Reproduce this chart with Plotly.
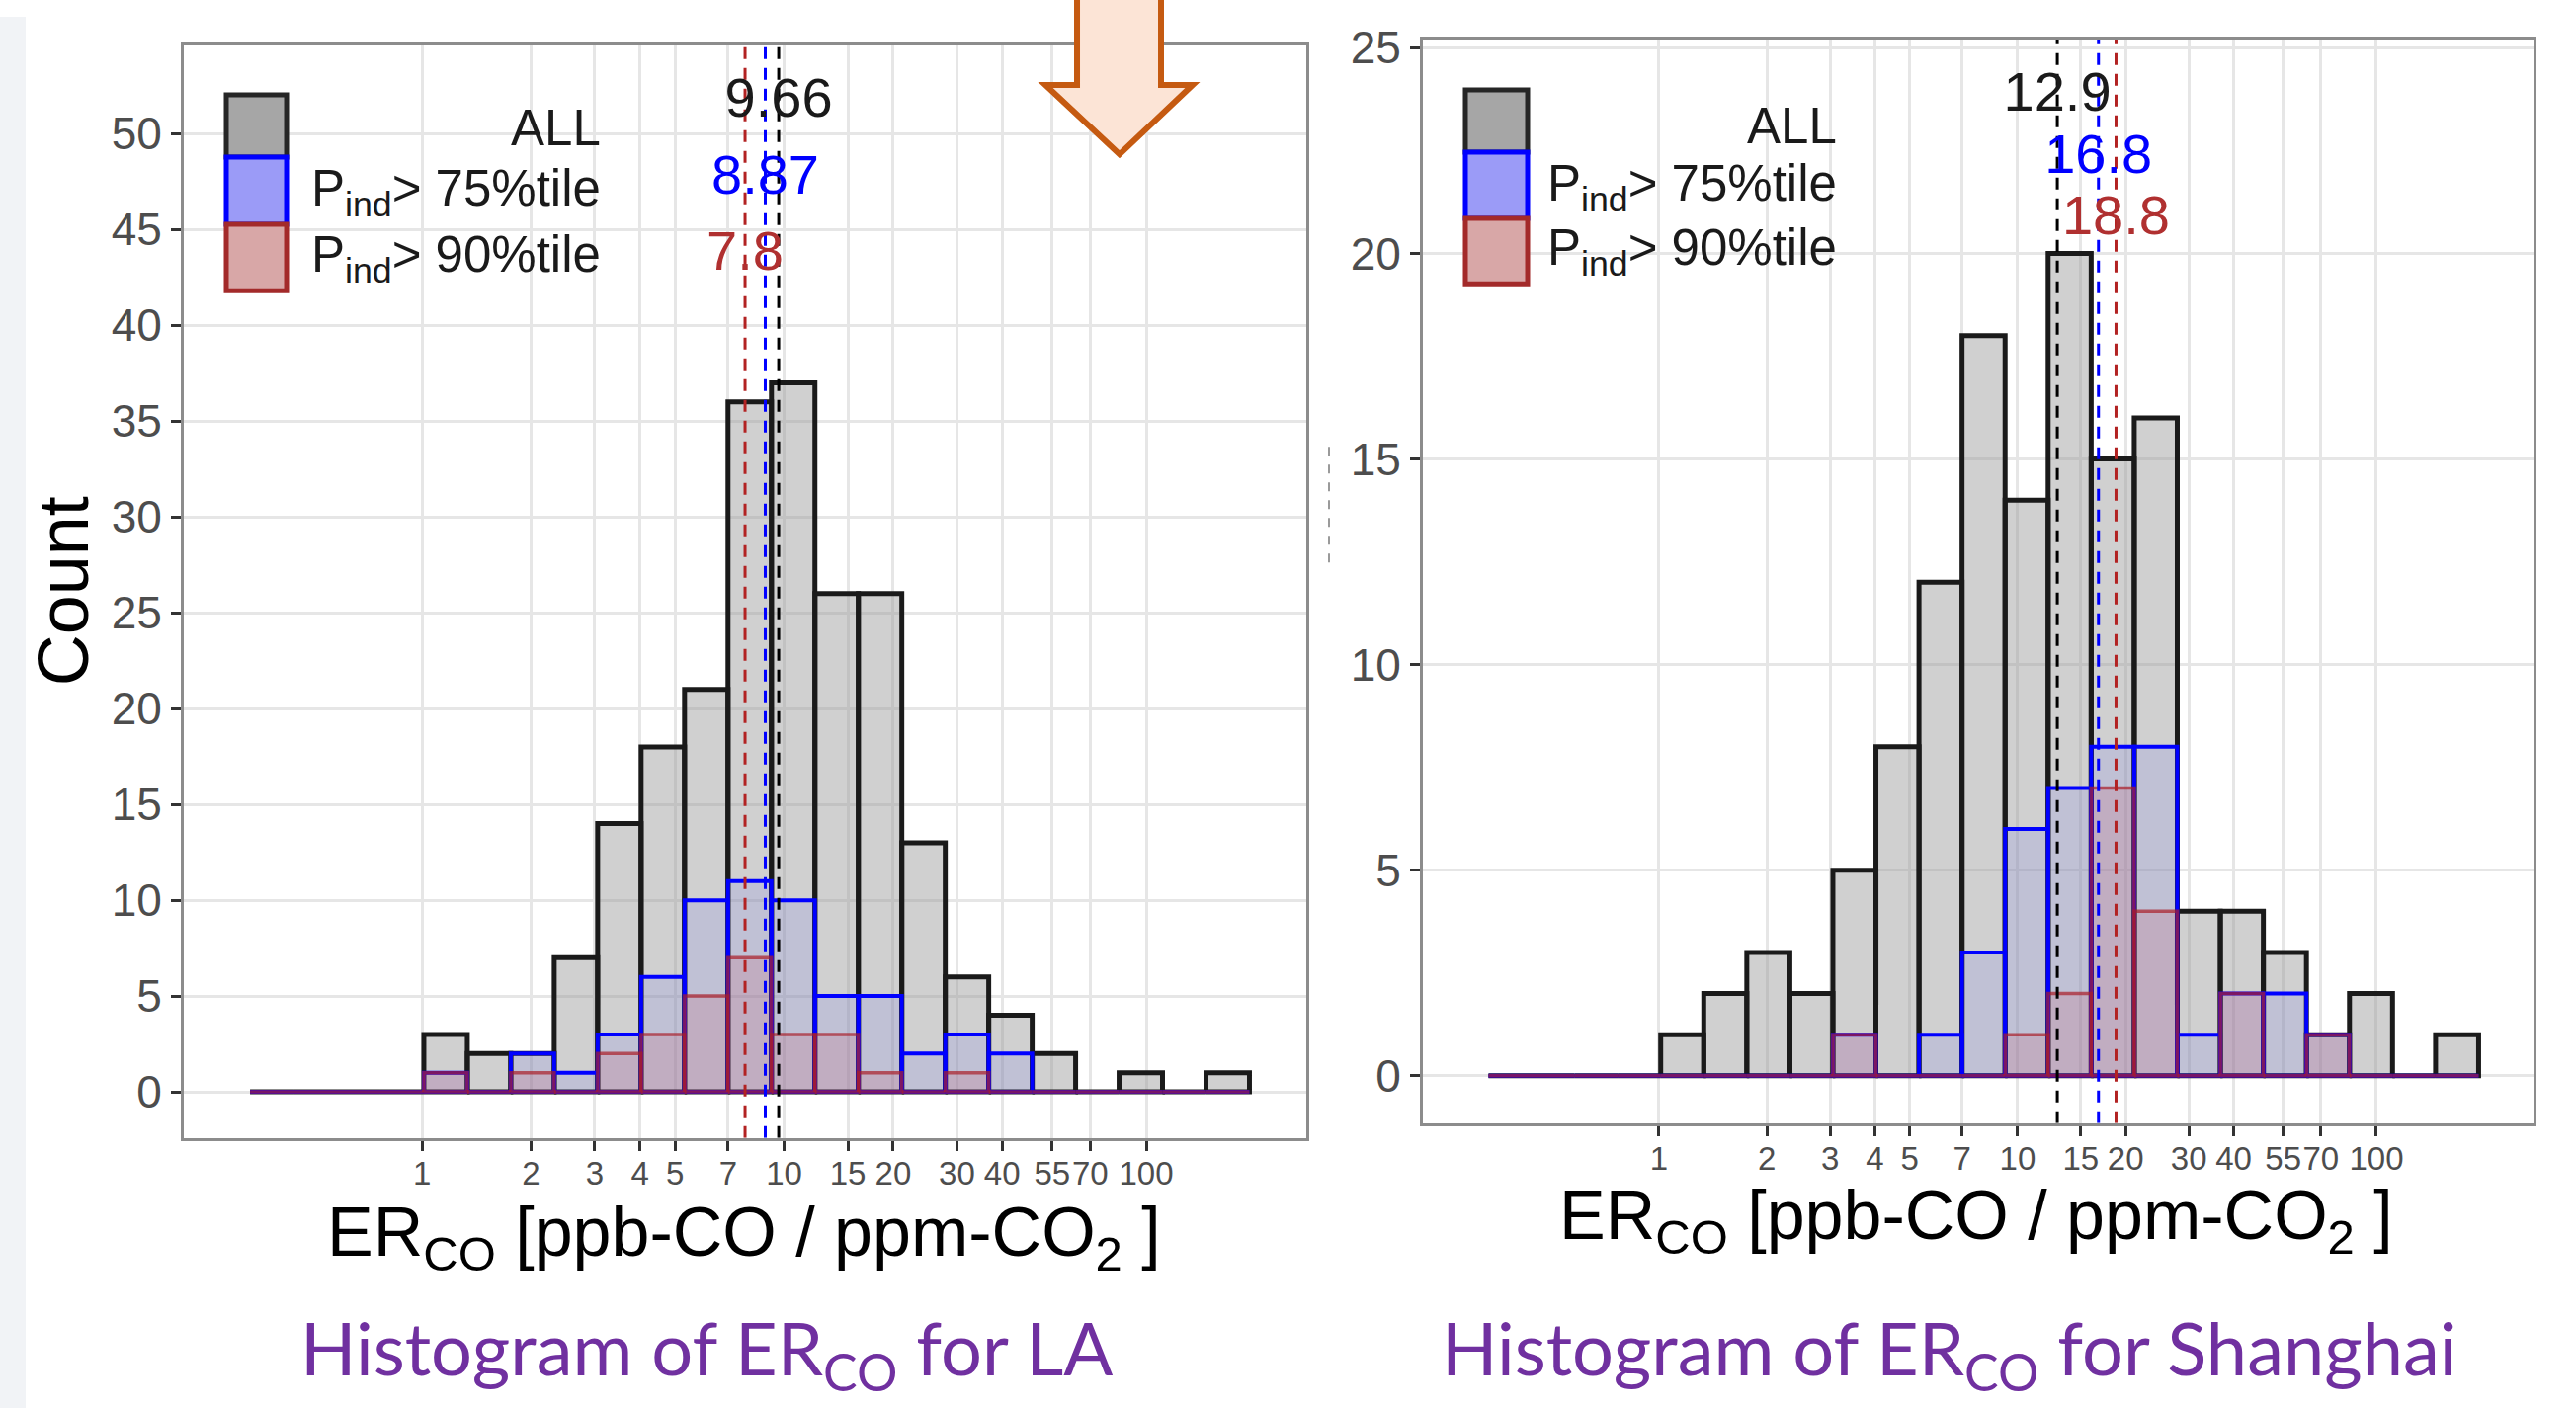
import plotly.graph_objects as go

W, H = 2607, 1425

# ---------------- data ----------------
bin_start_log10 = -0.475   # log10 of first bin edge
bin_width_log10 = 0.12     # bin width in log10 units

la_all = [0, 0, 0, 0, 3, 2, 2, 7, 14, 18, 21, 36, 37, 26, 26, 13, 6, 4, 2, 0, 1, 0, 1]
la_p75 = [0, 0, 0, 0, 1, 0, 2, 1, 3, 6, 10, 11, 10, 5, 5, 2, 3, 2, 0, 0, 0, 0, 0]
la_p90 = [0, 0, 0, 0, 1, 0, 1, 0, 2, 3, 5, 7, 3, 3, 1, 0, 1, 0, 0, 0, 0, 0, 0]

sh_all = [0, 0, 0, 0, 1, 2, 3, 2, 5, 8, 12, 18, 14, 20, 15, 16, 4, 4, 3, 1, 2, 0, 1]
sh_p75 = [0, 0, 0, 0, 0, 0, 0, 0, 1, 0, 1, 3, 6, 7, 8, 8, 1, 2, 2, 1, 0, 0, 0]
sh_p90 = [0, 0, 0, 0, 0, 0, 0, 0, 1, 0, 0, 0, 1, 2, 7, 4, 0, 2, 0, 1, 0, 0, 0]

la_medians = [9.66, 8.87, 7.8]
la_median_labels = ["9.66", "8.87", "7.8"]
la_label_y = [51.6, 47.6, 43.6]
sh_medians = [12.9, 16.8, 18.8]
sh_median_labels = ["12.9", "16.8", "18.8"]
sh_label_y = [23.8, 22.3, 20.8]

x_tick_vals = [1, 2, 3, 4, 5, 7, 10, 15, 20, 30, 40, 55, 70, 100]
x_tick_text = ["1", "2", "3", "4", "5", "7", "10", "15", "20", "30", "40", "55", "70", "100"]
la_y_ticks = [0, 5, 10, 15, 20, 25, 30, 35, 40, 45, 50]
sh_y_ticks = [0, 5, 10, 15, 20, 25]

series_names = ["ALL", "P<sub>ind</sub>> 75%tile", "P<sub>ind</sub>> 90%tile"]
x_title = "ER<sub>CO</sub> [ppb-CO / ppm-CO<sub>2</sub> ]"
captions = ["Histogram of ER<sub>CO</sub> for LA", "Histogram of ER<sub>CO</sub> for Shanghai"]

# ---------------- styles ----------------
FILL = ["rgba(150,150,150,0.45)", "rgba(80,90,255,0.12)", "rgba(200,60,80,0.15)"]
LINE = ["#1a1a1a", "#0000ff", "rgba(170,30,40,0.7)"]
LW = [5, 4, 3.5]
VCOL = ["#000000", "#0000ff", "#b22222"]
TCOL = ["#1a1a1a", "#0000ff", "#b03030"]
KEY_FILL = ["#a6a6a6", "#9b9bf7", "#d8a7a7"]
KEY_LINE = ["#262626", "#0000ff", "#a32a2a"]
FONT = "Liberation Sans, Arial, sans-serif"

# vertical correction for the capture (observed: screen_y = 18 + 0.9875 * y)
Y_OFF, Y_SCALE = 18.0, 0.9875


def px(x):
    return x / W


def py(y):
    yd = (y - Y_OFF) / Y_SCALE
    return 1 - yd / H


def bar_path(counts):
    xs, ys = [], []
    for k, c in enumerate(counts):
        l = 10 ** (bin_start_log10 + k * bin_width_log10)
        r = 10 ** (bin_start_log10 + (k + 1) * bin_width_log10)
        xs += [l, l, r, r, l, None]
        ys += [0, c, c, 0, 0, None]
    return xs, ys


fig = go.Figure()

panels = [
    dict(xa="x", ya="y", series=[la_all, la_p75, la_p90], med=la_medians,
         lab=la_median_labels, laby=la_label_y, yr=[-2.4, 54.6]),
    dict(xa="x2", ya="y2", series=[sh_all, sh_p75, sh_p90], med=sh_medians,
         lab=sh_median_labels, laby=sh_label_y, yr=[-1.15, 25.2]),
]

for p in panels:
    for i, counts in enumerate(p["series"]):
        xs, ys = bar_path(counts)
        fig.add_trace(go.Scatter(x=xs, y=ys, mode="lines", fill="toself",
                                 fillcolor=FILL[i],
                                 line=dict(color=LINE[i], width=LW[i]),
                                 xaxis=p["xa"], yaxis=p["ya"], showlegend=False,
                                 hoverinfo="skip"))
    for i, v in enumerate(p["med"]):
        fig.add_trace(go.Scatter(x=[v, v], y=p["yr"], mode="lines",
                                 line=dict(color=VCOL[i], width=3, dash="12px,9px"),
                                 xaxis=p["xa"], yaxis=p["ya"], showlegend=False,
                                 hoverinfo="skip"))
    for i, v in enumerate(p["med"]):
        fig.add_trace(go.Scatter(x=[v], y=[p["laby"][i]], mode="text",
                                 text=[p["lab"][i]], textposition="middle center",
                                 textfont=dict(size=56, color=TCOL[i], family=FONT),
                                 xaxis=p["xa"], yaxis=p["ya"], showlegend=False,
                                 hoverinfo="skip"))

axis_common = dict(showline=True, mirror=True, linecolor="#8c8c8c", linewidth=3,
                   showgrid=True, gridcolor="#e6e6e6", gridwidth=3, zeroline=False,
                   ticks="outside", ticklen=10, tickwidth=3, tickcolor="#333333")

fig.update_layout(
    width=W, height=H,
    margin=dict(l=0, r=0, t=0, b=0),
    paper_bgcolor="white", plot_bgcolor="white",
    showlegend=False,
    xaxis=dict(axis_common, type="log", domain=[px(186), px(1322)],
               range=[-0.658, 2.442], tickvals=x_tick_vals, ticktext=x_tick_text,
               tickangle=0, anchor="y", ticklabelstandoff=-5,
               tickfont=dict(size=33, color="#4d4d4d", family=FONT)),
    yaxis=dict(axis_common, domain=[py(1152), py(47)], range=[-2.4, 54.6],
               tickvals=la_y_ticks, anchor="x",
               tickfont=dict(size=46, color="#4d4d4d", family=FONT)),
    xaxis2=dict(axis_common, type="log", domain=[px(1440), px(2564)],
                range=[-0.658, 2.438], tickvals=x_tick_vals, ticktext=x_tick_text,
                tickangle=0, anchor="y2", ticklabelstandoff=-5,
                tickfont=dict(size=33, color="#4d4d4d", family=FONT)),
    yaxis2=dict(axis_common, domain=[py(1137), py(41)], range=[-1.15, 25.2],
                tickvals=sh_y_ticks, anchor="x2",
                tickfont=dict(size=46, color="#4d4d4d", family=FONT)),
)

shapes = []
annotations = []

# faint slide edge
shapes.append(dict(type="rect", xref="paper", yref="paper", x0=0, x1=px(26), y0=0, y1=1,
                   fillcolor="#f1f3f6", line=dict(width=0), layer="below"))

# manual legends
legend_specs = [
    dict(kx0=229, kx1=290, ky=[97, 160, 228, 295], tx_right=610, tx_y=[130, 195, 262]),
    dict(kx0=1483, kx1=1546, ky=[92, 155, 222, 288], tx_right=1861, tx_y=[128, 190, 255]),
]
for spec in legend_specs:
    for i in range(3):
        shapes.append(dict(type="rect", xref="paper", yref="paper",
                           x0=px(spec["kx0"]), x1=px(spec["kx1"]),
                           y0=py(spec["ky"][i + 1]), y1=py(spec["ky"][i]),
                           fillcolor=KEY_FILL[i], line=dict(color=KEY_LINE[i], width=5),
                           layer="above"))
        annotations.append(dict(xref="paper", yref="paper", x=px(spec["tx_right"]),
                                y=py(spec["tx_y"][i]), xanchor="right", yanchor="middle",
                                text=series_names[i], showarrow=False,
                                font=dict(size=51, color="#1a1a1a", family=FONT)))

# orange arrow
pts = [(1090, -30), (1090, 87), (1058, 87), (1133, 157), (1207, 87), (1175, 87), (1175, -30)]
path = "M " + " L ".join(f"{px(x):.5f},{py(y):.5f}" for x, y in pts) + " Z"
shapes.append(dict(type="path", xref="paper", yref="paper", path=path,
                   fillcolor="#fce4d6", line=dict(color="#c55a11", width=6), layer="above"))

# small dashed artifact between panels
shapes.append(dict(type="line", xref="paper", yref="paper", x0=px(1345), x1=px(1345),
                   y0=py(570), y1=py(447), line=dict(color="#9a9a9a", width=2, dash="dash")))

# axis titles
annotations.append(dict(xref="paper", yref="paper", x=px(64), y=py(599), textangle=-90,
                        text="Count", showarrow=False, xanchor="center", yanchor="middle",
                        font=dict(size=72, color="#000000", family=FONT)))
annotations.append(dict(xref="paper", yref="paper", x=px(753), y=py(1252), text=x_title,
                        showarrow=False, xanchor="center", yanchor="middle",
                        font=dict(size=70, color="#000000", family=FONT)))
annotations.append(dict(xref="paper", yref="paper", x=px(2000), y=py(1235), text=x_title,
                        showarrow=False, xanchor="center", yanchor="middle",
                        font=dict(size=70, color="#000000", family=FONT)))

# captions
annotations.append(dict(xref="paper", yref="paper", x=px(715), y=py(1369), text=captions[0],
                        showarrow=False, xanchor="center", yanchor="middle",
                        font=dict(size=74, color="#7030a0", family="Lato, Open Sans, sans-serif")))
annotations.append(dict(xref="paper", yref="paper", x=px(1973), y=py(1369), text=captions[1],
                        showarrow=False, xanchor="center", yanchor="middle",
                        font=dict(size=74, color="#7030a0", family="Lato, Open Sans, sans-serif")))

fig.update_layout(shapes=shapes, annotations=annotations)

fig.write_html(
    "out.html",
    config={"displayModeBar": False},
    post_script=(
        "document.body.style.margin='0';document.body.style.padding='0';"
    ),
)
